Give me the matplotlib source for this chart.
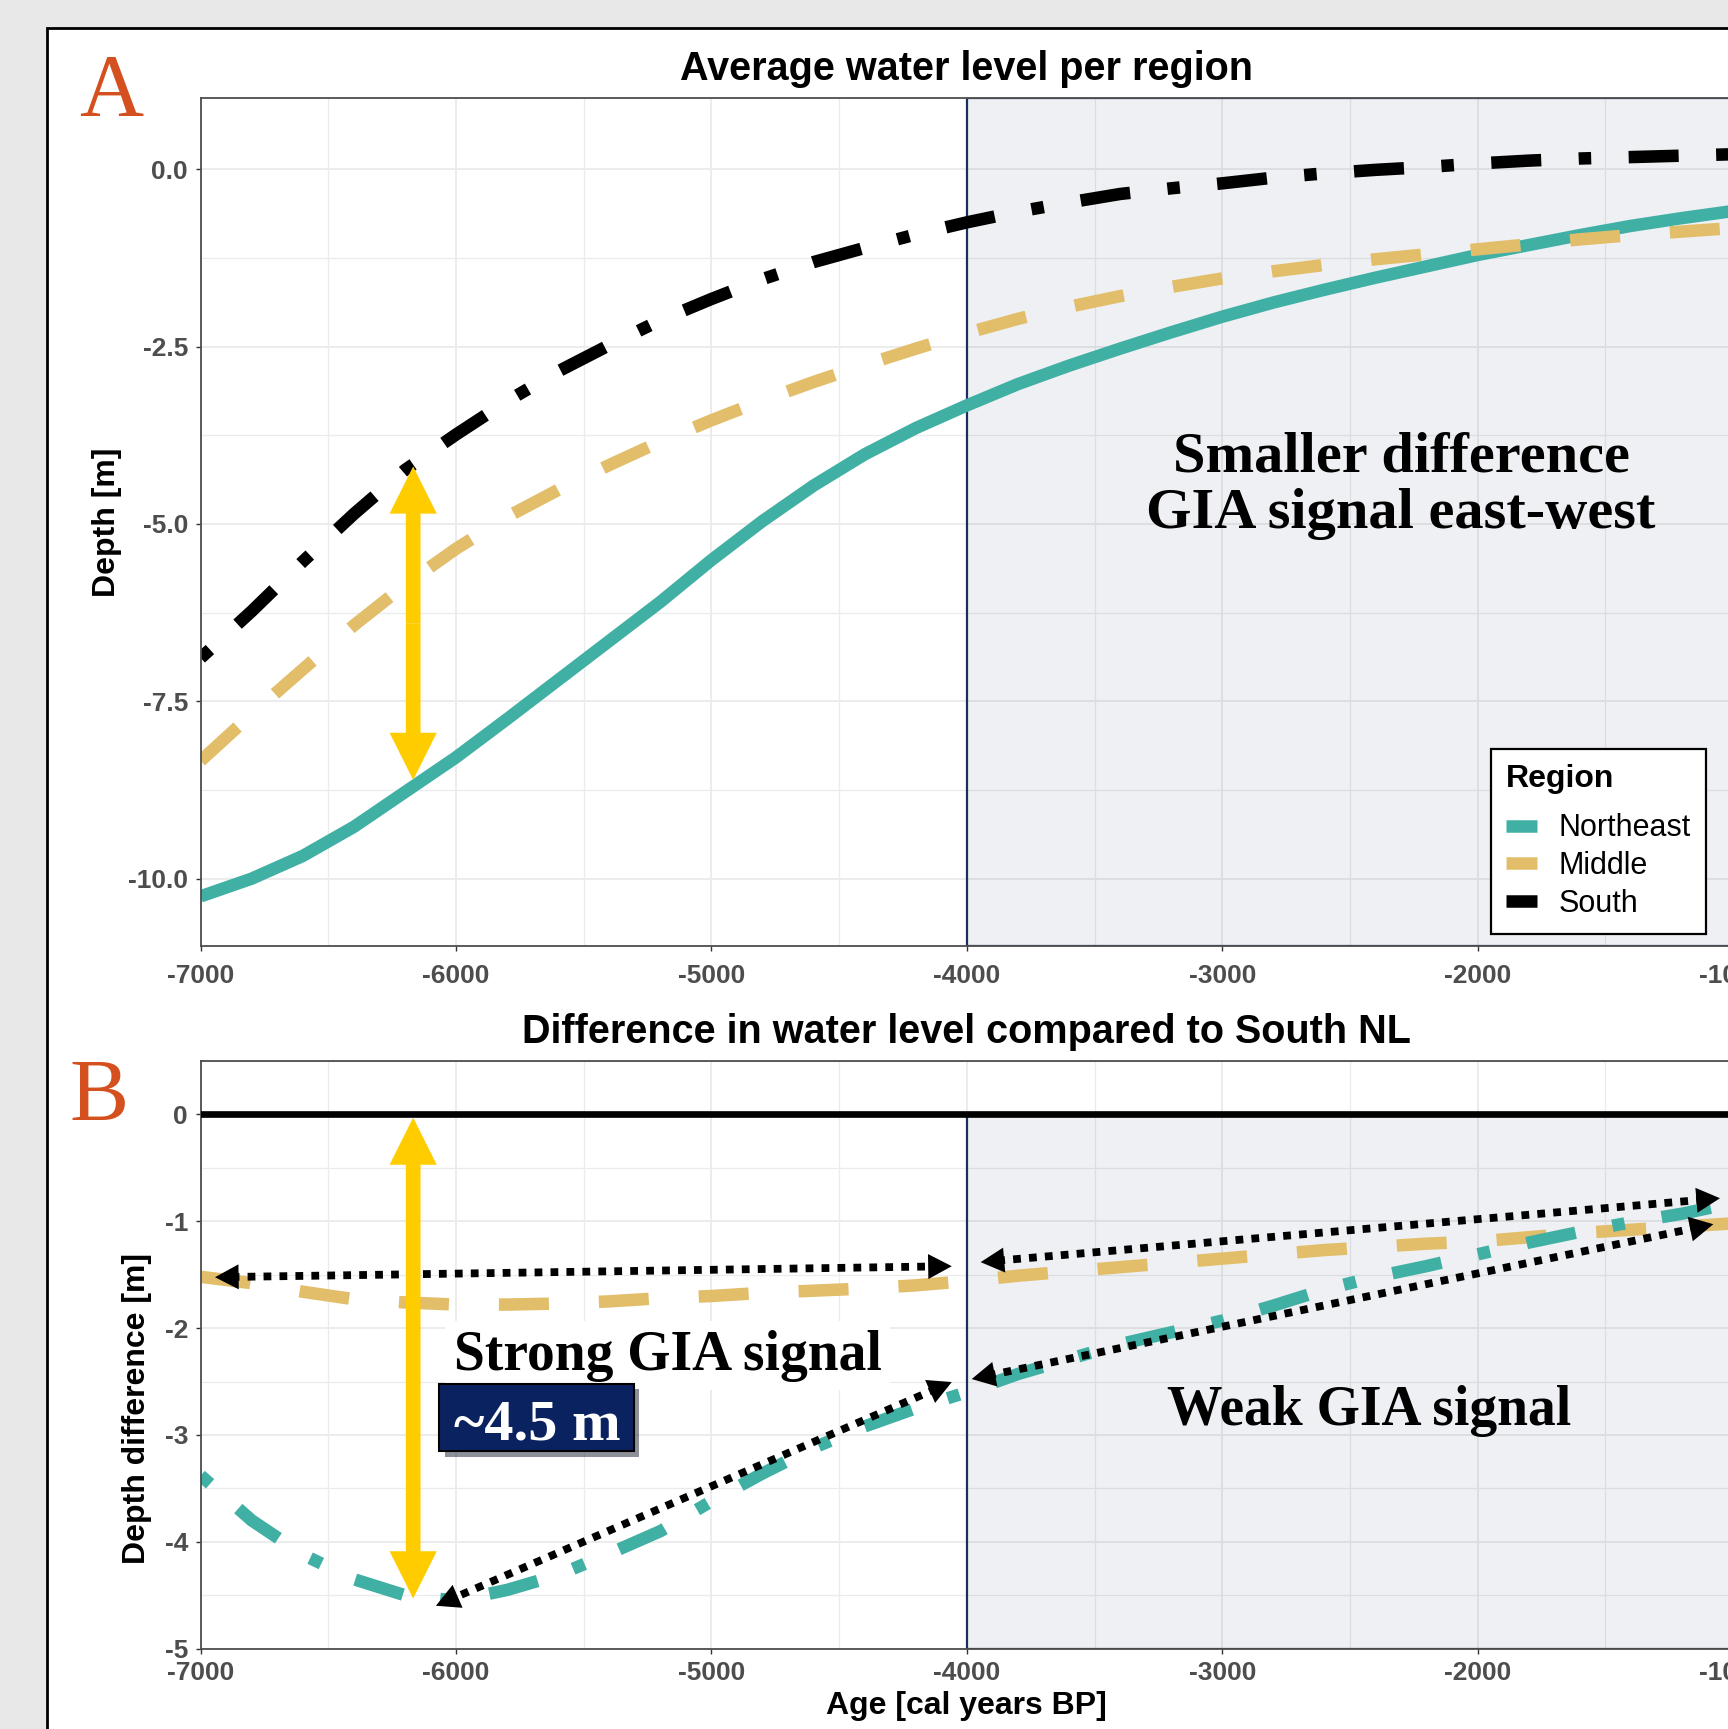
import matplotlib
matplotlib.use("Agg")
import numpy as np
import matplotlib.pyplot as plt
import matplotlib.patheffects as pe
from matplotlib.patches import Rectangle, FancyArrowPatch, ArrowStyle
from matplotlib.lines import Line2D
from matplotlib.ticker import MultipleLocator, FormatStrFormatter

plt.rcParams['font.family'] = ['Liberation Sans', 'DejaVu Sans']
plt.rcParams['axes.unicode_minus'] = False

# ---- data (age in cal years BP, depth in m) ----
years = [-7000, -6800, -6600, -6400, -6200, -6000, -5800, -5600, -5400, -5200,
         -5000, -4800, -4600, -4400, -4200, -4000, -3800, -3600, -3400, -3200,
         -3000, -2800, -2600, -2400, -2200, -2000, -1800, -1600, -1400, -1200, -1000]

northeast = [-10.25, -10.00, -9.68, -9.27, -8.78, -8.29, -7.75, -7.20, -6.65, -6.10,
             -5.51, -4.96, -4.46, -4.02, -3.65, -3.33, -3.03, -2.77, -2.53, -2.30,
             -2.08, -1.88, -1.70, -1.53, -1.37, -1.21, -1.07, -0.93, -0.80, -0.69, -0.59]
middle = [-8.34, -7.68, -7.05, -6.43, -5.86, -5.35, -4.90, -4.52, -4.17, -3.84,
          -3.54, -3.26, -3.00, -2.76, -2.53, -2.31, -2.11, -1.94, -1.79, -1.66,
          -1.54, -1.44, -1.35, -1.27, -1.20, -1.13, -1.06, -0.99, -0.93, -0.88, -0.83]
south = [-6.89, -6.23, -5.53, -4.86, -4.24, -3.74, -3.27, -2.85, -2.48, -2.13,
         -1.83, -1.55, -1.31, -1.11, -0.92, -0.75, -0.60, -0.47, -0.35, -0.27,
         -0.20, -0.12, -0.06, -0.01, 0.03, 0.08, 0.12, 0.15, 0.17, 0.19, 0.21]

# difference to South NL
diff_northeast = [-3.38, -3.80, -4.12, -4.35, -4.50, -4.55, -4.45, -4.31, -4.11, -3.90,
                  -3.62, -3.36, -3.12, -2.92, -2.75, -2.60, -2.43, -2.29, -2.15, -2.04,
                  -1.93, -1.79, -1.64, -1.52, -1.42, -1.31, -1.20, -1.10, -1.01, -0.93, -0.83]
diff_middle = [-1.52, -1.58, -1.66, -1.73, -1.76, -1.78, -1.78, -1.77, -1.75, -1.72,
               -1.70, -1.67, -1.65, -1.63, -1.60, -1.56, -1.51, -1.47, -1.43, -1.39,
               -1.35, -1.31, -1.27, -1.24, -1.21, -1.19, -1.15, -1.11, -1.08, -1.05, -1.02]

regions = ['Northeast', 'Middle', 'South']
xticks = [-7000, -6000, -5000, -4000, -3000, -2000, -1000]

# annotation anchors (data units)
arrow_a = (-6168, -4.19, -8.61)
arrow_b = (-6168, -0.03, -4.53)
dotted_arrows = [((-6944, -1.524), (-4059, -1.421)),
                 ((-3946, -1.383), (-1051, -0.785)),
                 ((-3981, -2.477), (-1077, -1.028)),
                 ((-4059, -2.505), (-6079, -4.598))]

TEAL = '#41b0a4'
TAN = '#e2be6b'
NAVY = '#1b2f5e'
YELLOW = '#ffcc00'
RED = '#d4501f'
LW = 9

W, H = 1728, 1729
fig = plt.figure(figsize=(17.28, 17.29), dpi=100)
fig.patch.set_facecolor('#e8e8e8')
fig.add_artist(Rectangle((47 / W, -0.05), 1.2, 1 - 27.6 / H + 0.05, transform=fig.transFigure,
                         facecolor='white', edgecolor='black', lw=2, zorder=-1))

axA = fig.add_axes([200.7 / W, 1 - 946 / H, 1532.3 / W, 847.8 / H])
axB = fig.add_axes([200.7 / W, 1 - 1648.7 / H, 1532.3 / W, 587.8 / H])


def style(ax, ymaj, ymin_, xpad):
    ax.set_xlim(-7000, -1000)
    ax.set_xticks(xticks)
    ax.xaxis.set_minor_locator(MultipleLocator(500))
    ax.yaxis.set_major_locator(MultipleLocator(ymaj))
    ax.yaxis.set_minor_locator(MultipleLocator(ymin_))
    ax.grid(which='major', color='#ebebeb', lw=1.3)
    ax.grid(which='minor', color='#ebebeb', lw=0.9)
    ax.set_axisbelow(True)
    ax.tick_params(which='major', length=3.6, width=1, color='#333333',
                   labelsize=19, labelcolor='#4d4d4d')
    ax.tick_params(which='minor', length=0)
    ax.tick_params(axis='x', pad=xpad)
    ax.tick_params(axis='y', pad=5.5)
    for s in ax.spines.values():
        s.set_color('#4d4d4d')
        s.set_linewidth(1.3)


def bold_ticks(ax):
    for lab in ax.get_xticklabels() + ax.get_yticklabels():
        lab.set_fontweight('bold')


def yellow_arrow(ax, x, y0, y1):
    mid = (y0 + y1) / 2
    style_ = ArrowStyle.Simple(head_length=34, head_width=34, tail_width=10.6)
    for end in (y0, y1):
        ax.add_patch(FancyArrowPatch((x, mid), (x, end), arrowstyle=style_, mutation_scale=1,
                                     color=YELLOW, lw=0, shrinkA=0, shrinkB=0, zorder=5))


# ---------------- panel A ----------------
style(axA, 2.5, 1.25, 9.5)
axA.set_ylim(-10.95, 1.0)
axA.yaxis.set_major_formatter(FormatStrFormatter('%.1f'))
bold_ticks(axA)
axA.add_patch(Rectangle((-4000, -10.95), 4000, 11.95, facecolor=(0.106, 0.184, 0.369, 0.07),
                        edgecolor=NAVY, lw=1.6, zorder=1.5))
axA.plot(years, northeast, color=TEAL, lw=LW, solid_capstyle='butt', solid_joinstyle='round', zorder=2)
axA.plot(years, middle, color=TAN, lw=LW, dashes=(4, 4), dash_capstyle='butt', zorder=2)
axA.plot(years, south, color='black', lw=LW, dashes=(1, 3, 4, 3), dash_capstyle='butt', zorder=2)

axA.set_ylabel('Depth [m]', fontsize=23, fontweight='bold')
axA.yaxis.label.set_va('center')
axA.yaxis.set_label_coords(-0.0612, 0.5)
axA.text(0.5, 1 + 29 / 847.8, 'Average water level per region', transform=axA.transAxes,
         ha='center', va='center', fontsize=28.5, fontweight='bold')

handles = [Line2D([], [], color=c, lw=LW, solid_capstyle='butt') for c in (TEAL, TAN, 'black')]
leg = axA.legend(handles, regions, title='Region', loc='lower right',
                 bbox_to_anchor=(0.9824, 0.0142), fontsize=22,
                 title_fontproperties={'weight': 'bold', 'size': 23},
                 frameon=True, fancybox=False, edgecolor='black', framealpha=1,
                 handlelength=1.0, handletextpad=0.72, labelspacing=0.25,
                 borderpad=0.5, borderaxespad=0)
leg._legend_box.align = 'left'
leg._legend_box.sep = 14
leg.get_frame().set_linewidth(1.6)
leg.set_zorder(6)

axA.text(-2300, -4.258, 'Smaller difference', ha='center', va='baseline',
         fontsize=42, fontweight='bold', family='Liberation Serif', zorder=5)
axA.text(-2300, -5.052, 'GIA signal east-west', ha='center', va='baseline',
         fontsize=42, fontweight='bold', family='Liberation Serif', zorder=5)

yellow_arrow(axA, *arrow_a)

# ---------------- panel B ----------------
style(axB, 1, 0.5, 5)
axB.set_ylim(-5, 0.5)
bold_ticks(axB)
axB.add_patch(Rectangle((-4000, -5), 4000, 5, facecolor=(0.106, 0.184, 0.369, 0.07),
                        edgecolor=NAVY, lw=1.6, zorder=1.5))
axB.axhline(0, color='black', lw=4.8, zorder=3)
axB.plot(years, diff_middle, color=TAN, lw=LW, dashes=(4, 4), dash_capstyle='butt', zorder=2)
axB.plot(years, diff_northeast, color=TEAL, lw=LW, dashes=(1, 3, 4, 3), dash_capstyle='butt', zorder=2)

axB.set_ylabel('Depth difference [m]', fontsize=23, fontweight='bold')
axB.yaxis.label.set_va('center')
axB.yaxis.set_label_coords(-0.0416, 0.408)
axB.set_xlabel('Age [cal years BP]', fontsize=23, fontweight='bold')
axB.xaxis.label.set_va('center')
axB.xaxis.set_label_coords(0.5, -0.0975)
axB.text(0.5, 1 + 29 / 587.8, 'Difference in water level compared to South NL',
         transform=axB.transAxes, ha='center', va='center', fontsize=28.5, fontweight='bold')

# dotted double arrows: dotted shaft stops short of the tips, heads drawn on top
for p0, p1 in dotted_arrows:
    a = axB.transData.transform(p0)
    b = axB.transData.transform(p1)
    d = b - a
    s = (12 * fig.dpi / 72) / np.hypot(*d)
    q0, q1 = axB.transData.inverted().transform(np.array([a + d * s, b - d * s]))
    axB.plot([q0[0], q1[0]], [q0[1], q1[1]], color='black', lw=5.6, dashes=(1, 1.05),
             dash_capstyle='butt', zorder=4)
    axB.annotate('', xy=p1, xytext=p0,
                 arrowprops=dict(arrowstyle='<|-|>,head_length=17,head_width=9', mutation_scale=1,
                                 lw=0, color='black', shrinkA=0, shrinkB=0), zorder=4)

yellow_arrow(axB, *arrow_b)

axB.text(-5172, -2.39, 'Strong GIA signal', ha='center', va='baseline', fontsize=40,
         fontweight='bold', family='Liberation Serif', zorder=5,
         bbox=dict(boxstyle='square,pad=0.15', facecolor='white', edgecolor='none'))
box = Rectangle((-6067, -3.15), 763, 0.63, facecolor='#0b2260', edgecolor='black', lw=1.5, zorder=6)
box.set_path_effects([pe.SimplePatchShadow(offset=(4, -4), alpha=0.45), pe.Normal()])
axB.add_patch(box)
axB.text(-5683, -3.044, '~4.5 m', ha='center', va='baseline', fontsize=42, color='white',
         fontweight='bold', family='Liberation Serif', zorder=7)
axB.text(-2426, -2.907, 'Weak GIA signal', ha='center', va='baseline', fontsize=40,
         fontweight='bold', family='Liberation Serif', zorder=5)

# panel letters
fig.text(111 / W, 1 - 115 / H, 'A', ha='center', va='baseline', fontsize=64,
         color=RED, family='Liberation Serif')
fig.text(99.5 / W, 1 - 1120 / H, 'B', ha='center', va='baseline', fontsize=64,
         color=RED, family='Liberation Serif')

fig.savefig('out.png', dpi=100)
